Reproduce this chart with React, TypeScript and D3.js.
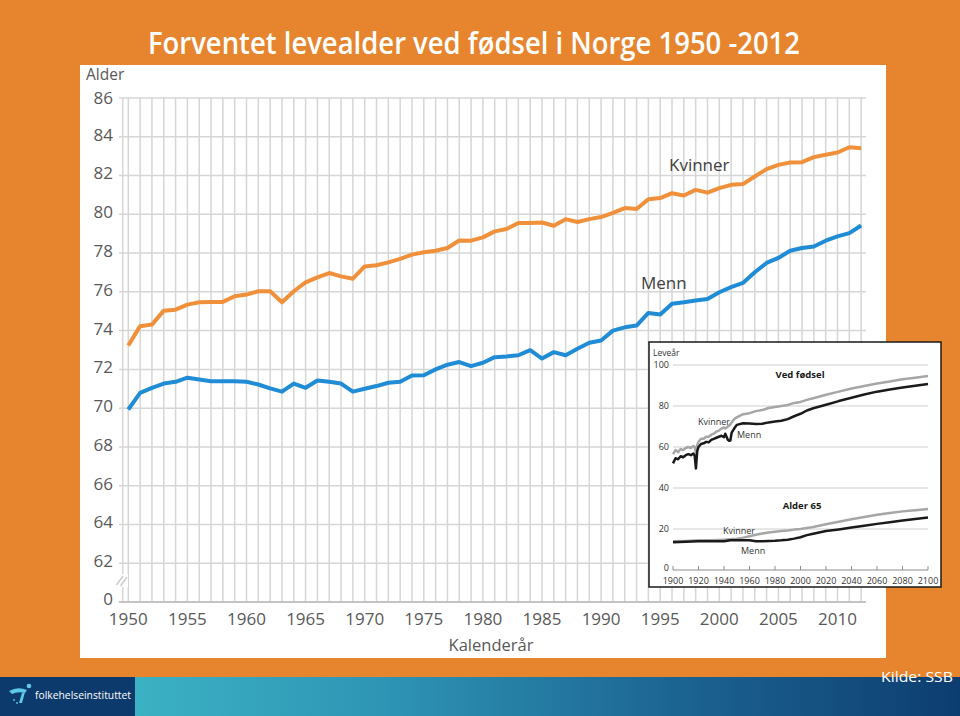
import React from 'react';
import * as d3 from 'd3';

// ---------- Main chart data ----------
const years = [
  1950, 1951, 1952, 1953, 1954, 1955, 1956, 1957, 1958, 1959,
  1960, 1961, 1962, 1963, 1964, 1965, 1966, 1967, 1968, 1969,
  1970, 1971, 1972, 1973, 1974, 1975, 1976, 1977, 1978, 1979,
  1980, 1981, 1982, 1983, 1984, 1985, 1986, 1987, 1988, 1989,
  1990, 1991, 1992, 1993, 1994, 1995, 1996, 1997, 1998, 1999,
  2000, 2001, 2002, 2003, 2004, 2005, 2006, 2007, 2008, 2009,
  2010, 2011, 2012,
];

const kvinner = [
  73.23, 74.23, 74.31, 75.03, 75.08, 75.34, 75.46, 75.48, 75.48, 75.77,
  75.86, 76.03, 76.03, 75.46, 76.03, 76.49, 76.75, 76.97, 76.8, 76.68,
  77.31, 77.37, 77.52, 77.7, 77.92, 78.04, 78.12, 78.26, 78.65, 78.64,
  78.81, 79.12, 79.24, 79.55, 79.55, 79.58, 79.41, 79.75, 79.6, 79.75,
  79.86, 80.07, 80.32, 80.27, 80.78, 80.84, 81.09, 80.97, 81.26, 81.12,
  81.35, 81.52, 81.56, 81.95, 82.33, 82.55, 82.67, 82.69, 82.95, 83.07,
  83.19, 83.46, 83.41,
];

const menn = [
  69.93, 70.79, 71.05, 71.27, 71.36, 71.57, 71.48, 71.39, 71.39, 71.39,
  71.36, 71.22, 71.02, 70.85, 71.27, 71.05, 71.43, 71.36, 71.27, 70.85,
  71.0, 71.14, 71.31, 71.36, 71.68, 71.7, 72.0, 72.24, 72.38, 72.17,
  72.34, 72.63, 72.67, 72.73, 72.99, 72.56, 72.89, 72.73, 73.06, 73.37,
  73.49, 74.0, 74.17, 74.26, 74.91, 74.83, 75.39, 75.46, 75.55, 75.63,
  75.98, 76.24, 76.46, 77.01, 77.49, 77.75, 78.12, 78.26, 78.34, 78.64,
  78.86, 79.03, 79.42,
];

const yTicks = [62, 64, 66, 68, 70, 72, 74, 76, 78, 80, 82, 84, 86];
const yBreakValue = 60; // drawn as "0" (broken axis)
const yBreakLabel = '0';
const xTickLabels = [1950, 1955, 1960, 1965, 1970, 1975, 1980, 1985, 1990, 1995, 2000, 2005, 2010];

// ---------- Inset data ----------
const insetBirthYears = [
  1900, 1902, 1904, 1906, 1908, 1910, 1912, 1914, 1916, 1917,
  1918, 1919, 1920, 1922, 1924, 1926, 1928, 1930, 1932, 1934,
  1936, 1938, 1940, 1941, 1942, 1943, 1944, 1945, 1946, 1948,
  1950, 1955, 1960, 1965, 1970, 1975, 1980, 1985, 1990, 1995,
  2000, 2005, 2010, 2020, 2030, 2040, 2050, 2060, 2070, 2080,
  2090, 2100,
];
const insetBirthMenn = [
  52.0, 54.5, 54.0, 55.5, 55.0, 56.0, 56.5, 56.0, 56.8, 55.8,
  49.5, 58.0, 60.0, 61.5, 61.8, 62.5, 62.3, 63.5, 64.0, 64.5,
  65.0, 65.5, 64.8, 66.5, 65.0, 63.5, 63.0, 63.2, 67.0, 69.0,
  70.8, 71.6, 71.5, 71.2, 71.3, 72.0, 72.4, 72.8, 73.6, 75.0,
  76.2, 77.8, 78.9, 80.6, 82.4, 84.0, 85.6, 87.0, 88.0, 89.0,
  89.9, 90.7,
];
const insetBirthKvinner = [
  56.5, 58.5, 57.5, 59.0, 58.5, 59.5, 60.0, 59.5, 60.5, 60.0,
  57.0, 61.0, 62.5, 64.0, 64.0, 65.0, 65.0, 66.0, 66.5, 67.5,
  68.0, 69.0, 69.5, 69.0, 69.5, 70.0, 70.5, 71.0, 72.0, 73.5,
  74.5, 76.0, 76.5, 77.5, 78.0, 79.0, 79.5, 80.0, 80.5, 81.5,
  82.0, 83.0, 83.8, 85.5, 87.0, 88.5, 89.8, 91.0, 92.0, 93.0,
  93.8, 94.6,
];
const insetAge65Years = [
  1900, 1910, 1920, 1930, 1940, 1945, 1950, 1955, 1960, 1965,
  1970, 1975, 1980, 1985, 1990, 1995, 2000, 2005, 2010, 2020,
  2030, 2040, 2050, 2060, 2070, 2080, 2090, 2100,
];
const insetAge65Menn = [
  13.5, 13.8, 14.0, 14.0, 14.0, 14.5, 14.5, 14.5, 14.5, 14.0,
  14.0, 14.2, 14.3, 14.5, 14.8, 15.3, 16.0, 17.0, 17.7, 19.0,
  19.8, 20.7, 21.6, 22.5, 23.3, 24.1, 24.9, 25.6,
];
const insetAge65Kvinner = [
  14.0, 14.2, 14.5, 14.5, 14.8, 15.0, 15.2, 15.8, 16.5, 17.2,
  17.8, 18.3, 18.7, 19.0, 19.3, 19.7, 20.0, 20.5, 21.0, 22.3,
  23.5, 24.8, 25.9, 26.9, 27.8, 28.6, 29.2, 29.7,
];
const insetYTicks = [0, 20, 40, 60, 80, 100];
const insetXTicks = [1900, 1920, 1940, 1960, 1980, 2000, 2020, 2040, 2060, 2080, 2100];

// ---------- Styles ----------
const ORANGE_BG = '#e7852e';
const ORANGE_LINE = '#f0903a';
const BLUE_LINE = '#1f8cd5';
const GRID = '#d6d6d6';
const TEXT = '#595959';
const FONT = "'Open Sans', 'Noto Sans', sans-serif";

export default function App() {
  const x = d3.scaleLinear().domain([1950, 2010]).range([128.3, 837.5]);
  const y = d3.scaleLinear().domain([60, 86]).range([602, 98]);

  const line = d3
    .line<[number, number]>()
    .x((d) => x(d[0]))
    .y((d) => y(d[1]));

  const kPts = years.map((yr, i) => [yr, kvinner[i]] as [number, number]);
  const mPts = years.map((yr, i) => [yr, menn[i]] as [number, number]);

  const ix = d3.scaleLinear().domain([1900, 2100]).range([673, 928]);
  const iy = d3.scaleLinear().domain([0, 100]).range([570, 365]);
  const iline = d3
    .line<[number, number]>()
    .x((d) => ix(d[0]))
    .y((d) => iy(d[1]));
  const zip = (a: number[], b: number[]) => a.map((v, i) => [v, b[i]] as [number, number]);

  const gridLeft = 119;
  const gridRight = 866;

  return (
    <svg
      width={960}
      height={716}
      style={{ position: 'absolute', left: 0, top: 0, display: 'block' }}
      xmlns="http://www.w3.org/2000/svg"
    >
      <defs>
        <linearGradient id="band" x1="0" x2="1" y1="0" y2="0">
          <stop offset="0" stopColor="#3bb1c3" />
          <stop offset="0.3" stopColor="#2e95b5" />
          <stop offset="0.65" stopColor="#1c6593" />
          <stop offset="1" stopColor="#0d3d70" />
        </linearGradient>
      </defs>
      <rect x={0} y={0} width={960} height={716} fill={ORANGE_BG} />

      {/* Title */}
      <text
        x={148}
        y={54}
        fill="#ffffff"
        fontFamily={FONT}
        fontSize={31}
        fontWeight={600}
        textLength={652}
        lengthAdjust="spacingAndGlyphs"
      >
        Forventet levealder ved fødsel i Norge 1950 -2012
      </text>

      {/* White panel */}
      <rect x={80} y={65} width={806} height={593} fill="#ffffff" />

      {/* Horizontal grid */}
      {yTicks.map((t) => (
        <line key={'h' + t} x1={gridLeft} x2={gridRight} y1={y(t)} y2={y(t)} stroke={GRID} strokeWidth={1.5} />
      ))}
      {/* Vertical grid */}
      {years.map((yr) => (
        <line key={'v' + yr} x1={x(yr)} x2={x(yr)} y1={y(86)} y2={y(yBreakValue)} stroke={GRID} strokeWidth={1.5} />
      ))}
      {/* left axis line */}
      <line x1={122.7} x2={122.7} y1={y(86)} y2={y(yBreakValue)} stroke={GRID} strokeWidth={1.5} />
      {/* base axis */}
      <line x1={gridLeft} x2={gridRight} y1={y(yBreakValue)} y2={y(yBreakValue)} stroke="#c4c4c4" strokeWidth={2} />

      {/* Axis break marks */}
      <rect x={116} y={574} width={12} height={13} fill="#ffffff" />
      <line x1={116.5} y1={585} x2={123} y2={576} stroke="#c8c8c8" strokeWidth={1.3} />
      <line x1={120.5} y1={586} x2={127} y2={577} stroke="#c8c8c8" strokeWidth={1.3} />

      {/* Y tick labels */}
      {yTicks.map((t) => (
        <text key={'yl' + t} x={113} y={y(t) - (t === 86 ? 0 : 2)} dy="0.35em" textAnchor="end" fill={TEXT} fontFamily={FONT} fontSize={17}>
          {t}
        </text>
      ))}
      <text x={113} y={y(yBreakValue) - 3} dy="0.35em" textAnchor="end" fill={TEXT} fontFamily={FONT} fontSize={17}>
        {yBreakLabel}
      </text>
      <text x={86} y={80} fill={TEXT} fontFamily={FONT} fontSize={15.5}>
        Alder
      </text>

      {/* X tick labels */}
      {xTickLabels.map((t) => (
        <text key={'xl' + t} x={x(t)} y={625} textAnchor="middle" fill={TEXT} fontFamily={FONT} fontSize={17}>
          {t}
        </text>
      ))}
      <text x={491} y={651} textAnchor="middle" fill={TEXT} fontFamily={FONT} fontSize={16.5}>
        Kalenderår
      </text>

      {/* Lines */}
      <path d={line(kPts) || ''} fill="none" stroke={ORANGE_LINE} strokeWidth={4} strokeLinejoin="round" />
      <path d={line(mPts) || ''} fill="none" stroke={BLUE_LINE} strokeWidth={4} strokeLinejoin="round" />

      <text x={669} y={171} fill="#404040" fontFamily={FONT} fontSize={17}>
        Kvinner
      </text>
      <text x={641} y={289} fill="#404040" fontFamily={FONT} fontSize={17}>
        Menn
      </text>

      {/* Inset */}
      <rect x={649} y={342} width={292} height={245} fill="#ffffff" stroke="#1a1a1a" strokeWidth={1.5} />
      {insetYTicks.filter((t) => t > 0).map((t) => (
        <line key={'ig' + t} x1={ix(1900)} x2={ix(2100)} y1={iy(t)} y2={iy(t)} stroke="#cfcfcf" strokeWidth={1} />
      ))}
      <line x1={ix(1900)} x2={ix(2100)} y1={iy(0)} y2={iy(0)} stroke="#8c8c8c" strokeWidth={1} />
      {insetXTicks.map((t) => (
        <line key={'it' + t} x1={ix(t)} x2={ix(t)} y1={iy(0)} y2={iy(0) - 4} stroke="#8c8c8c" strokeWidth={1} />
      ))}
      {insetYTicks.map((t) => (
        <text key={'iyl' + t} x={669} y={iy(t) - (t === 0 ? 2 : 0)} dy="0.35em" textAnchor="end" fill="#333" fontFamily={FONT} fontSize={9}>
          {t}
        </text>
      ))}
      {insetXTicks.map((t) => (
        <text key={'ixl' + t} x={ix(t)} y={584} textAnchor="middle" fill="#333" fontFamily={FONT} fontSize={9}>
          {t}
        </text>
      ))}
      <text x={653} y={356} fill="#333" fontFamily={FONT} fontSize={8.5}>
        Leveår
      </text>

      <path d={iline(zip(insetBirthYears, insetBirthKvinner)) || ''} fill="none" stroke="#a6a6a6" strokeWidth={2.5} strokeLinejoin="round" />
      <path d={iline(zip(insetBirthYears, insetBirthMenn)) || ''} fill="none" stroke="#1a1a1a" strokeWidth={2.5} strokeLinejoin="round" />
      <path d={iline(zip(insetAge65Years, insetAge65Kvinner)) || ''} fill="none" stroke="#a6a6a6" strokeWidth={2.5} strokeLinejoin="round" />
      <path d={iline(zip(insetAge65Years, insetAge65Menn)) || ''} fill="none" stroke="#1a1a1a" strokeWidth={2.5} strokeLinejoin="round" />

      <text x={800} y={378} textAnchor="middle" fill="#1a1a1a" fontFamily={FONT} fontSize={9.5} fontWeight={700}>
        Ved fødsel
      </text>
      <text x={802} y={509} textAnchor="middle" fill="#1a1a1a" fontFamily={FONT} fontSize={9.5} fontWeight={700}>
        Alder 65
      </text>
      <text x={698} y={425} fill="#333" fontFamily={FONT} fontSize={9}>
        Kvinner
      </text>
      <text x={737} y={438} fill="#333" fontFamily={FONT} fontSize={9}>
        Menn
      </text>
      <text x={723} y={534} fill="#333" fontFamily={FONT} fontSize={9}>
        Kvinner
      </text>
      <text x={741} y={554} fill="#333" fontFamily={FONT} fontSize={9}>
        Menn
      </text>

      {/* Bottom band */}
      <rect x={135} y={677} width={825} height={39} fill="url(#band)" />
      <rect x={0} y={677} width={135} height={39} fill="#0d3a6c" />
      <path d="M9,691 Q18,686 27,690 L25,693 Q18,691 12,694 Z" fill="#5cc8ea" />
      <path d="M25,692 L22,703 L19,703 L22,693 Z" fill="#5cc8ea" />
      <circle cx={29} cy={686} r={2.3} fill="#5cc8ea" />
      <circle cx={14} cy={700} r={0.9} fill="#5cc8ea" />
      <circle cx={17} cy={703} r={0.9} fill="#5cc8ea" />
      <text x={35} y={699} fill="#ffffff" fontFamily={FONT} fontSize={11} textLength={96} lengthAdjust="spacingAndGlyphs">
        folkehelseinstituttet
      </text>
      <text x={953} y={682} textAnchor="end" fill="#ffffff" fontFamily={FONT} fontSize={15} textLength={72} lengthAdjust="spacingAndGlyphs">
        Kilde: SSB
      </text>
    </svg>
  );
}
